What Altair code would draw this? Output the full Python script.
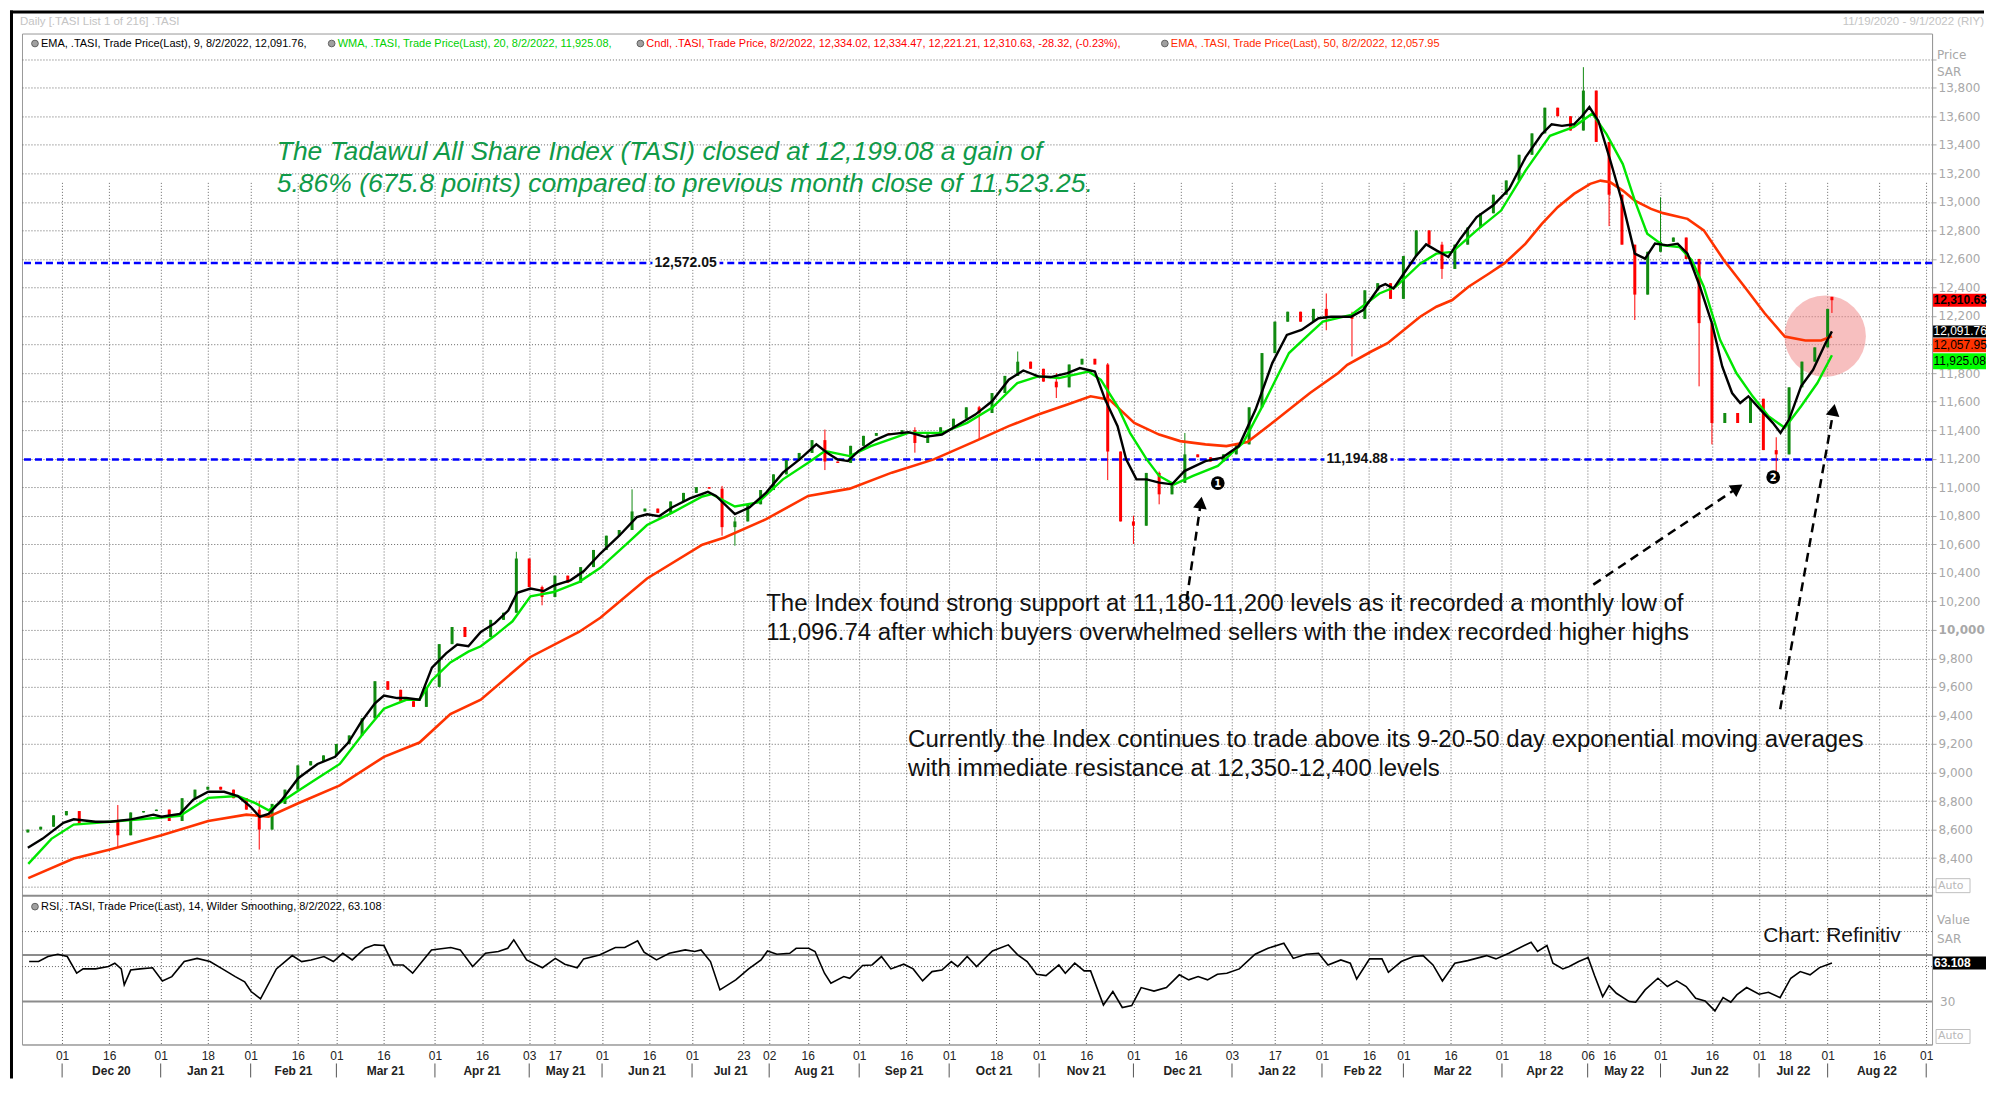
import math
import altair as alt
import pandas as pd

# ---------------- data ----------------
# candles: (session index, close); open = previous close
CANDLES = [(0,8600),(3,8620),(6,8700),(9,8730),(12,8640),(15,8660),(18,8660),(21,8560),(24,8720),(27,8730),
 (30,8740),(33,8660),(36,8820),(39,8880),(42,8900),(45,8880),(48,8820),(51,8740),(54,8600),(57,8780),
 (60,8880),(63,9050),(66,9080),(69,9120),(72,9200),(75,9260),(78,9380),(81,9640),(84,9580),(87,9500),
 (90,9460),(93,9600),(96,9900),(99,10020),(102,9950),(105,9950),(108,10070),(111,10120),(114,10500),(117,10300),
 (120,10230),(123,10380),(126,10330),(129,10440),(132,10560),(135,10660),(138,10700),(141,10830),(144,10850),(147,10820),
 (150,10900),(153,10960),(156,11000),(159,10990),(162,10720),(165,10760),(168,10880),(171,10980),(174,11090),(177,11190),
 (180,11240),(183,11330),(186,11180),(189,11170),(192,11290),(195,11360),(198,11380),(201,11370),(204,11400),(207,11310),
 (210,11370),(213,11420),(216,11480),(219,11560),(222,11520),(225,11660),(228,11780),(231,11880),(234,11830),(237,11740),
 (240,11700),(243,11860),(246,11900),(249,11860),(252,11250),(255,10760),(258,10730),(261,11100),(264,10950),(267,11030),
 (270,11230),(273,11210),(276,11180),(279,11230),(282,11300),(285,11560),(288,11940),(291,12160),(294,12230),(297,12160),
 (300,12250),(303,12200),(306,12200),(309,12180),(312,12380),(315,12430),(318,12320),(321,12620),(324,12800),(327,12700),
 (330,12530),(333,12700),(336,12820),(339,12920),(342,13050),(345,13150),(348,13330),(351,13480),(354,13660),(357,13600),
 (360,13500),(363,13780),(366,13420),(369,13050),(372,12700),(375,12350),(378,12650),(381,12720),(384,12750),(387,12600),
 (390,12150),(393,11450),(396,11520),(399,11450),(402,11620),(405,11260),(408,11230),(411,11700),(414,11880),(417,11980),
 (420,12250),(421,12310.63)]
FIRST_OPEN = 8580
# visible long wicks: (session, low, high)
WICKS = [(21,8472,8772),(54,8460,8800),(114,10180,10547),(120,10172,10310),(141,10780,10985),(162,10660,11009),
 (165,10590,10790),(186,11120,11404),(207,11242,11420),(222,11335,11570),(231,11780,11951),(240,11625,11800),
 (252,11050,11870),(258,10602,10800),(264,10880,11110),(270,11170,11380),(303,12100,12358),(309,11916,12230),
 (330,12460,12720),(363,13600,13944),(369,12830,13420),(375,12172,12700),(381,12700,13032),(390,11707,12600),
 (393,11300,12150),(408,11097,11350)]
LAST_OHLC = (12334.02, 12334.47, 12221.21, 12310.63)

EMA9 = [(0,8472),(3.4,8535),(8.3,8647),(10.7,8672),(15.8,8655),(19.2,8655),(24.1,8672),(29.3,8705),(31.2,8690),(35.5,8710),
 (38.6,8810),(42.1,8865),(45.8,8865),(49,8835),(52,8760),(54.1,8690),(56.2,8710),(59.3,8810),(63.1,8960),(67.6,9060),
 (71.7,9110),(74.8,9210),(77.9,9360),(81,9485),(83.1,9540),(86.2,9522),(88.3,9522),(91.4,9510),(94.3,9735),(97.6,9835),
 (100.2,9897),(102.8,9885),(105.7,9985),(109,10047),(112.1,10135),(114.2,10260),(117.3,10290),(120.4,10272),(122.7,10310),
 (126.6,10347),(129.7,10410),(133.6,10535),(138,10660),(142.1,10790),(144.5,10810),(147.3,10797),(150.4,10860),(154.5,10922),
 (158.7,10967),(160.6,10939),(165,10811),(168.4,10858),(172.3,10962),(176.2,11102),(180.1,11195),(184,11300),(186.5,11242),
 (188.9,11195),(191.4,11183),(193.8,11253),(197.7,11330),(200.6,11369),(205.5,11386),(209.4,11353),(213.3,11369),(217.2,11439),
 (221.1,11509),(225,11602),(228.9,11753),(232.3,11818),(235.8,11777),(238.7,11772),(242.6,11800),(245.5,11835),(249,11811),
 (251.4,11614),(254.3,11428),(256.3,11195),(258.7,11055),(261.1,11055),(264,11032),(267,11020),(269.9,11113),(274.8,11183),
 (278.7,11207),(282.6,11288),(286.5,11544),(290.4,11870),(293.8,12067),(297.2,12102),(301.2,12184),(304.1,12195),(308.8,12195),
 (311.6,12242),(315.4,12405),(316.8,12423),(318.7,12393),(321.1,12498),(323.9,12619),(326.3,12702),(328.7,12660),(331.5,12614),
 (334.3,12742),(338.1,12893),(341.9,12974),(345.7,13091),(349.5,13312),(353.3,13475),(355.6,13544),(358,13533),(360.8,13544),
 (362.7,13602),(364.4,13665),(366.5,13567),(369.3,13288),(372.2,12986),(375,12637),(377.4,12602),(379.7,12707),(382.6,12695),
 (385,12707),(387.3,12637),(390.2,12405),(393,12149),(395.4,11846),(397.7,11660),(399.6,11590),(401.5,11637),(404.3,11544),
 (407.2,11451),(409,11381),(411,11474),(413.8,11707),(416.6,11823),(419.5,12009),(421,12091.76)]

WMA20 = [(0.1,8360),(5.5,8535),(10.7,8635),(19.2,8655),(31.2,8685),(35.5,8697),(42.1,8822),(49,8835),(53.1,8785),(56.2,8735),
 (63.1,8872),(67.6,8960),(72.8,9060),(77.9,9260),(83.1,9447),(88.3,9510),(91.4,9510),(94.3,9647),(98.6,9772),(102.8,9847),
 (105.7,9885),(109,9960),(113.1,10060),(117.3,10235),(122.7,10265),(128.6,10335),(133.6,10435),(140,10610),(144.5,10735),
 (150.4,10822),(157.4,10935),(159.6,10951),(165,10865),(170.4,10893),(176.2,11055),(182.1,11172),(186,11253),(191.8,11218),
 (196.7,11288),(205.5,11381),(213.3,11381),(219.2,11451),(225,11556),(230.9,11730),(235.8,11777),(240.6,11765),(247.5,11811),
 (250.4,11753),(254.3,11567),(257.2,11381),(261.1,11195),(264,11079),(267.5,11020),(271.9,11079),(277.7,11149),(283.6,11311),
 (288.5,11591),(294.3,11940),(299.2,12079),(302.2,12160),(308.8,12207),(315.4,12358),(319.2,12405),(324.9,12567),(328.7,12637),
 (332.4,12649),(338.1,12800),(343.8,12939),(349.5,13219),(355.2,13463),(360.8,13526),(365.1,13619),(368.4,13475),(372.2,13265),
 (375,13009),(377.9,12777),(381.6,12695),(385.4,12684),(388.3,12591),(391.1,12405),(394.9,12033),(398.7,11800),(402.5,11637),
 (406.2,11498),(410,11416),(413.8,11567),(417.6,11730),(421,11925.08)]

EMA50 = [(0.1,8260),(10.7,8397),(19.2,8460),(31.2,8560),(42.1,8660),(51,8705),(56.2,8690),(63.1,8785),(72.8,8910),(83.1,9110),
 (91.4,9210),(98.6,9410),(105.7,9510),(117.3,9810),(128.6,9985),(133.6,10085),(144.5,10360),(157.4,10597),(162.6,10648),
 (172.3,10776),(182.1,10939),(191.8,10990),(201.6,11102),(211.4,11195),(221.1,11323),(228.9,11428),(235.8,11509),(242.6,11579),
 (248,11637),(252.4,11614),(258.2,11451),(264,11369),(268.9,11323),(274.8,11300),(279.7,11288),(284.6,11316),(291.4,11474),
 (299.2,11660),(305.8,11800),(307.9,11858),(313.5,11951),(317.3,12009),(321.1,12102),(324.9,12195),(328.7,12265),(332.4,12312),
 (336.2,12405),(341,12498),(344.7,12572),(349.5,12707),(353.3,12846),(357,12963),(360.8,13056),(364.6,13126),(367,13149),
 (369.3,13137),(372.2,13079),(375,13009),(378.8,12951),(381.6,12921),(387.3,12881),(391.1,12800),(395.8,12591),(400.6,12405),
 (405.3,12219),(410,12056),(414.8,12028),(418.5,12028),(421,12057.95)]

RSI14 = [(0.3,64.3),(2.5,64.3),(4.7,68.6),(7,70.6),(9.2,68.6),(11.4,54.3),(12.9,58),(15.8,58),(18.8,60),(20.3,62.9),(21.8,58),
 (22.5,44.3),(24,57),(26.2,58),(29.1,59),(31.4,47.7),(33.6,51.4),(36.5,64.3),(39.5,67),(42.5,64.3),(45.4,58),(48.4,51.4),
 (50.6,47),(52.1,38.6),(54.3,32.3),(58,58),(61.7,69.4),(63.9,64.3),(66.1,65.7),(69.1,68.6),(71.3,64.3),(73.5,71.4),(75.7,65.7),
 (78.7,75.7),(80.9,78.6),(83.1,78),(85.3,61.4),(87.6,61.4),(89.8,54.3),(92,64.3),(94.2,74.3),(98.7,76.3),(100.9,74.3),
 (103.8,60),(106.8,71.4),(109.8,72.9),(112,75.7),(113.4,82.9),(116.4,65.7),(120.1,59),(123.1,67),(125.3,62),(128.2,59),
 (129.7,66.6),(133.4,70),(137.1,76.3),(139.3,76.3),(142.3,82),(143.8,72.3),(146.7,65.7),(149.7,71.4),(153.4,74.3),(155.6,72.9),
 (157.1,74.3),(159.3,64.3),(161.5,40),(165.2,48.6),(168.2,58),(171.1,65.7),(172.6,73.4),(174.8,70.6),(177.8,71.4),(179.3,75.7),
 (182.2,75.7),(183.7,72.9),(185.9,54.3),(187.4,45.7),(190.4,51.4),(191.8,50),(194.8,60.9),(197,61.4),(199.2,68.6),(201.4,58),
 (204.4,62),(206.6,58),(208.8,47.7),(211,55.7),(213.3,57),(215.5,64.3),(217,60),(219.2,68.6),(221.4,60),(225.1,73.4),
 (228.8,78.6),(231,70),(233.2,64.3),(235.4,53.4),(237.6,52.3),(240.6,61.4),(242.1,54.3),(244.3,62.9),(246.5,56.3),(248,56.3),
 (251,27.1),(253.2,38.6),(255.4,24.9),(257.6,26.6),(259.8,42),(262.8,39),(265.7,42),(268.7,52.9),(270.9,48.6),(273.1,51.4),
 (275.3,48.6),(277.6,53.4),(279.8,54.3),(282.7,58),(286.4,70.6),(289.4,75.7),(293.1,80),(295.3,67),(298.3,70.6),(301.2,71.4),
 (303.4,61.4),(306.4,65.7),(308.6,62.9),(310.1,49.4),(313.1,66.6),(316,66.6),(317.5,55.1),(320.5,64.3),(323.4,68.6),(325.6,69.4),
 (327.9,61.4),(330.1,47.7),(333,62.9),(336,65.1),(340.4,69.4),(342.6,66.6),(345.6,71.4),(350.8,80.9),(352.3,72.9),(354.5,78),
 (355.9,62.9),(358.2,58),(359.7,60),(361.9,64.3),(364.1,67.7),(365.6,52.3),(367.5,34.3),(369,43.7),(370.7,37.1),(373.7,30),
 (375.2,29.4),(377.4,40),(380.4,50),(382.6,42.9),(384.8,47.7),(387,42.9),(389.2,32.9),(391.4,30.6),(393.7,22),(395.6,33.4),
 (397.4,29.4),(398.8,35.7),(401.1,42),(404,36.3),(406.2,38),(408.9,33.4),(411.4,50),(413.6,55.7),(415.9,52.9),(418.1,59.1),
 (421,63.108)]

LEVELS = [12572.05, 11194.88]
LEVEL_LABELS = ["12,572.05", "11,194.88"]
LEVEL_LABEL_S = [153.5, 310.2]

TICK_S = [8,19,31,42,52,63,72,83,95,106,117,123,134,145,155,167,173,182,194,205,215,226,236,247,258,269,281,291,
          302,313,321,332,344,354,364,369,381,393,404,410,420,432,443]
TICK_LABEL = ["01","16","01","18","01","16","01","16","01","16","03","17","01","16","01","23","02","16","01","16","01","18",
              "01","16","01","16","03","17","01","16","01","16","01","18","06","16","01","16","01","18","01","16","01"]
MONTH_EDGE = [8,31,52,72,95,117,134,155,173,194,215,236,258,281,302,321,344,364,381,404,420,443]
MONTH_MID = [19.5,41.5,62,83.5,106,125.5,144.5,164,183.5,204.5,225.5,247,269.5,291.5,311.5,332.5,354,372.5,392.5,412,431.5]
MONTH_NAME = ["Dec 20","Jan 21","Feb 21","Mar 21","Apr 21","May 21","Jun 21","Jul 21","Aug 21","Sep 21","Oct 21",
              "Nov 21","Dec 21","Jan 22","Feb 22","Mar 22","Apr 22","May 22","Jun 22","Jul 22","Aug 22"]

LAST_VALUES = [12310.63, 12091.76, 12057.95, 11925.08]
LAST_TEXT = ["12,310.63", "12,091.76", "12,057.95", "11,925.08"]
RSI_LAST = 63.108

# ---------------- layout / style ----------------
W, H_MAIN, H = 1912, 863, 1012
X_SCALE = alt.Scale(domain=[-0.2, 443.2], nice=False, zero=False)
P_SCALE = alt.Scale(domain=[8137, 14180], range=[H_MAIN, 0], nice=False, zero=False)
R_SCALE = alt.Scale(domain=[-6.8, 120.8], range=[H, H_MAIN], nice=False, zero=False)
BOX_X1, BOX_X2 = 1913, 1966

labels_js = "[" + ",".join("'%s'" % l for l in TICK_LABEL) + "]"
ticks_js = "[" + ",".join(str(t) for t in TICK_S) + "]"
XAXIS = alt.Axis(values=TICK_S, labelExpr=f"{labels_js}[indexof({ticks_js}, datum.value)]",
                 grid=True, gridColor="#666666", gridDash=[1, 2], gridWidth=1,
                 ticks=False, tickSize=0, domain=True, domainColor="#999999",
                 labelFont="Liberation Sans", labelFontSize=12, labelColor="#222222",
                 labelPadding=6, labelBaseline="top", labelAngle=0, labelOverlap=False,
                 labelFlush=False, title=None)
YAXIS = alt.Axis(orient="right", values=list(range(8200, 14001, 200)),
                 labelExpr="datum.value < 8300 || datum.value > 13900 || datum.value == 12000 ? '' : format(datum.value, ',')",
                 grid=True, gridColor="#666666", gridDash=[1, 2], gridWidth=1,
                 tickSize=4, tickColor="#aaaaaa", domainColor="#999999",
                 labelColor="#a8a8a8", labelFont="DejaVu Sans", labelFontSize=12, labelPadding=2,
                 labelFontWeight={"condition": {"test": "datum.value == 10000", "value": "bold"}, "value": "normal"},
                 labelOverlap=False, labelBound=False, title=None)

def X(field="s"):
    return alt.X(f"{field}:Q", scale=X_SCALE, axis=XAXIS)

def YP(field, axis=None):
    return alt.Y(f"{field}:Q", scale=P_SCALE, axis=axis)

def YR(field):
    return alt.Y(f"{field}:Q", scale=R_SCALE, axis=None)

DUMMY = alt.Data(values=[{"k": 0}])

def ptext(text, x, y, **kw):
    return alt.Chart(DUMMY).mark_text(text=text, **kw).encode(x=alt.value(x), y=alt.value(y))

def prule(x1, y1, x2, y2, **kw):
    return alt.Chart(DUMMY).mark_rule(**kw).encode(x=alt.value(x1), y=alt.value(y1),
                                                   x2=alt.value(x2), y2=alt.value(y2))

def prect(x1, y1, x2, y2, **kw):
    return alt.Chart(DUMMY).mark_rect(**kw).encode(x=alt.value(x1), y=alt.value(y1),
                                                   x2=alt.value(x2), y2=alt.value(y2))

# ---------------- tables ----------------
wick_map = {s: (lo, hi) for s, lo, hi in WICKS}
rows = []
prev = FIRST_OPEN
for s, c in CANDLES:
    o = prev
    if s == CANDLES[-1][0]:
        o, h, l, c = LAST_OHLC
    else:
        h, l = max(o, c), min(o, c)
    if s in wick_map:
        l = min(l, wick_map[s][0]); h = max(h, wick_map[s][1])
    rows.append({"s": s, "o": o, "c": c, "hi": h, "lo": l,
                 "col": "#118a11" if c >= o else "#ff0000"})
    prev = c
cdf = pd.DataFrame(rows)
ema9 = pd.DataFrame(EMA9, columns=["s", "v"])
wma20 = pd.DataFrame(WMA20, columns=["s", "v"])
ema50 = pd.DataFrame(EMA50, columns=["s", "v"])
rsi = pd.DataFrame(RSI14, columns=["s", "v"])
lev = pd.DataFrame({"v": LEVELS, "lab": LEVEL_LABELS, "s": LEVEL_LABEL_S})

layers = []

# panel separator
layers.append(prule(0, H_MAIN, W, H_MAIN, color="#8c8c8c", strokeWidth=2))

# support / resistance lines
layers.append(alt.Chart(lev).mark_rule(color="#0000ff", strokeDash=[7, 4], strokeWidth=2.5)
              .encode(y=YP("v")))

# highlight circle
layers.append(alt.Chart(DUMMY).mark_point(shape="circle", filled=True, size=6650, color="#f08080",
                                          opacity=0.5, strokeWidth=0)
              .encode(x=alt.value(1805), y=alt.value(303)))

# candles
layers.append(alt.Chart(cdf).mark_rule(strokeWidth=1)
              .encode(x=X(), y=YP("lo", YAXIS), y2="hi:Q", color=alt.Color("col:N", scale=None)))
layers.append(alt.Chart(cdf).mark_bar(size=3)
              .encode(x=X(), y=YP("o"), y2="c:Q", color=alt.Color("col:N", scale=None)))

# moving averages
layers.append(alt.Chart(ema50).mark_line(color="#ff3300", strokeWidth=2.6).encode(x=X(), y=YP("v")))
layers.append(alt.Chart(wma20).mark_line(color="#00e600", strokeWidth=2.4).encode(x=X(), y=YP("v")))
layers.append(alt.Chart(ema9).mark_line(color="#000000", strokeWidth=2.4).encode(x=X(), y=YP("v")))

# level labels (white halo)
layers.append(alt.Chart(lev).mark_text(font="Liberation Sans", fontSize=14, fontWeight="bold",
                                        stroke="white", strokeWidth=6, color="white")
              .encode(x=X(), y=YP("v"), text="lab:N"))
layers.append(alt.Chart(lev).mark_text(font="Liberation Sans", fontSize=14, fontWeight="bold", color="#111111")
              .encode(x=X(), y=YP("v"), text="lab:N"))

# annotations
GREEN = "#109a48"
layers.append(ptext("The Tadawul All Share Index (TASI) closed at 12,199.08 a gain of", 255, 119,
                    align="left", baseline="middle", font="Liberation Sans", fontSize=26.5,
                    fontStyle="italic", color=GREEN))
layers.append(ptext("5.86% (675.8 points) compared to previous month close of 11,523.25.", 255, 151,
                    align="left", baseline="middle", font="Liberation Sans", fontSize=26.5,
                    fontStyle="italic", color=GREEN))
layers.append(ptext("The Index found strong support at 11,180-11,200 levels as it recorded a monthly low of",
                    745, 571, align="left", baseline="middle", font="Liberation Sans", fontSize=24, color="#111111"))
layers.append(ptext("11,096.74 after which buyers overwhelmed sellers with the index recorded higher highs",
                    745, 600, align="left", baseline="middle", font="Liberation Sans", fontSize=24, color="#111111"))
layers.append(ptext("Currently the Index continues to trade above its 9-20-50 day exponential moving averages",
                    887, 707, align="left", baseline="middle", font="Liberation Sans", fontSize=24, color="#111111"))
layers.append(ptext("with immediate resistance at 12,350-12,400 levels",
                    887, 736, align="left", baseline="middle", font="Liberation Sans", fontSize=24, color="#111111"))
layers.append(ptext("Chart: Refinitiv", 1743, 903, align="left", baseline="middle",
                    font="Liberation Sans", fontSize=21, color="#111111"))

# arrows
ARROWS = [((1165.8, 567.0), (1181.0, 462.7)),
          ((1572.9, 551.7), (1723.0, 450.9)),
          ((1760.0, 676.4), (1814.7, 369.8))]
for (x0, y0), (x1, y1) in ARROWS:
    dx, dy = x1 - x0, y1 - y0
    L = math.hypot(dx, dy)
    ux, uy = dx / L, dy / L
    layers.append(prule(x0, y0, x1 - 11 * ux, y1 - 11 * uy, color="black", strokeWidth=2.5, strokeDash=[9, 6]))
    ang = math.degrees(math.atan2(dx, -dy)) % 360
    layers.append(alt.Chart(DUMMY).mark_point(shape="triangle-up", filled=True, size=190, color="black",
                                              opacity=1, angle=ang)
                  .encode(x=alt.value(x1 - 7 * ux), y=alt.value(y1 - 7 * uy)))

# numbered markers
for num, (mx, my) in [("1", (1197, 450)), ("2", (1753, 444))]:
    layers.append(alt.Chart(DUMMY).mark_point(shape="circle", filled=True, size=190, color="black", opacity=1)
                  .encode(x=alt.value(mx), y=alt.value(my)))
    layers.append(ptext(num, mx, my + 0.5, align="center", baseline="middle", font="DejaVu Sans",
                        fontSize=10, fontWeight="bold", color="white"))

# right-side last value boxes: value, text, background, text colour, shift, half height, weight
BOXES = [(LAST_VALUES[0], LAST_TEXT[0], "#ff0000", "#000000", 0, 6.5, "bold"),
         (LAST_VALUES[1], LAST_TEXT[1], "#000000", "#ffffff", 0, 6, "normal"),
         (LAST_VALUES[2], LAST_TEXT[2], "#ff3300", "#000000", 9, 7, "normal"),
         (LAST_VALUES[3], LAST_TEXT[3], "#00ff00", "#000000", 6, 8, "normal")]
for v, txt, bg, fg, dy, hh, fw in BOXES:
    d = pd.DataFrame({"v": [v]})
    layers.append(alt.Chart(d).mark_rect(color=bg, yOffset=-hh + dy, y2Offset=hh + dy)
                  .encode(x=alt.value(BOX_X1), x2=alt.value(BOX_X2), y=YP("v"), y2="v:Q"))
    layers.append(alt.Chart(d).mark_text(align="left", baseline="middle", dy=dy, color=fg, font="Liberation Sans",
                                         fontSize=12, fontWeight=fw)
                  .encode(x=alt.value(BOX_X1 + 0.5), y=YP("v"), text=alt.value(txt)))

layers.append(ptext("Price", 1917, 22, align="left", baseline="middle", font="DejaVu Sans", fontSize=12, color="#a8a8a8"))
layers.append(ptext("SAR", 1917, 39, align="left", baseline="middle", font="DejaVu Sans", fontSize=12, color="#a8a8a8"))
layers.append(prect(1916, 846, 1950, 860, fill="white", stroke="#c0c0c0", strokeWidth=1))
layers.append(ptext("Auto", 1918, 853, align="left", baseline="middle", font="DejaVu Sans", fontSize=11, color="#b8b8b8"))

# ---------------- RSI panel ----------------
layers.append(alt.Chart(pd.DataFrame({"v": [60, 90]})).mark_rule(color="#666666", strokeDash=[1, 2], strokeWidth=1)
              .encode(y=YR("v")))
layers.append(alt.Chart(pd.DataFrame({"v": [30, 70]})).mark_rule(color="#8c8c8c", strokeWidth=2)
              .encode(y=YR("v")))
layers.append(alt.Chart(rsi).mark_line(color="#000000", strokeWidth=1.6).encode(x=X(), y=YR("v")))
layers.append(ptext("Value", 1917, 887, align="left", baseline="middle", font="DejaVu Sans", fontSize=12, color="#a8a8a8"))
layers.append(ptext("SAR", 1917, 906, align="left", baseline="middle", font="DejaVu Sans", fontSize=12, color="#a8a8a8"))
rl = pd.DataFrame({"v": [RSI_LAST]})
layers.append(alt.Chart(rl).mark_rect(color="#000000", yOffset=-6.5, y2Offset=6.5)
              .encode(x=alt.value(BOX_X1), x2=alt.value(BOX_X2), y=YR("v"), y2="v:Q"))
layers.append(alt.Chart(rl).mark_text(align="left", baseline="middle", color="white", font="Liberation Sans",
                                      fontSize=12, fontWeight="bold")
              .encode(x=alt.value(BOX_X1 + 1), y=YR("v"), text=alt.value("63.108")))
layers.append(alt.Chart(pd.DataFrame({"v": [30]})).mark_text(align="left", baseline="middle", color="#a8a8a8",
                                                             font="DejaVu Sans", fontSize=12)
              .encode(x=alt.value(1920), y=YR("v"), text=alt.value("30")))
layers.append(prect(1916, 997, 1950, 1011, fill="white", stroke="#c0c0c0", strokeWidth=1))
layers.append(ptext("Auto", 1918, 1004, align="left", baseline="middle", font="DejaVu Sans", fontSize=11, color="#b8b8b8"))

# ---------------- legends / header ----------------
LEG = [(13, "EMA, .TASI, Trade Price(Last),  9, 8/2/2022, 12,091.76,", "#000000"),
       (310, "WMA, .TASI, Trade Price(Last),  20, 8/2/2022, 11,925.08,", "#00d000"),
       (619, "Cndl, .TASI, Trade Price, 8/2/2022, 12,334.02, 12,334.47, 12,221.21, 12,310.63, -28.32, (-0.23%),", "#ff0000"),
       (1144, "EMA, .TASI, Trade Price(Last),  50, 8/2/2022, 12,057.95", "#ff2a00")]
for ix, txt, col in LEG + [(13, "RSI, .TASI, Trade Price(Last),  14, Wilder Smoothing, 8/2/2022, 63.108", "#000000")]:
    yy = 874 if txt.startswith("RSI") else 10
    layers.append(alt.Chart(DUMMY).mark_point(shape="circle", filled=True, size=45, color="#a0a0a0",
                                              stroke="#606060", strokeWidth=1, opacity=1)
                  .encode(x=alt.value(ix), y=alt.value(yy)))
    layers.append(ptext(txt, ix + 6, yy, align="left", baseline="middle", font="Liberation Sans",
                        fontSize=11, color=col))

layers.append(ptext("Daily [.TASI List 1 of 216] .TASI", -2, -11.5, align="left", baseline="middle",
                    font="Liberation Sans", fontSize=11.5, color="#c4c4c4"))
layers.append(ptext("11/19/2020 - 9/1/2022 (RIY)", 1964, -11.5, align="right", baseline="middle",
                    font="Liberation Sans", fontSize=11.5, color="#c4c4c4"))
layers.append(prule(-12, -21.5, 1964, -21.5, color="#000000", strokeWidth=3))
layers.append(prule(-10.5, -23, -10.5, 1046, color="#000000", strokeWidth=3))

# ---------------- month axis ----------------
layers.append(alt.Chart(pd.DataFrame({"s": MONTH_EDGE})).mark_rule(color="#555555", strokeWidth=1)
              .encode(x=X(), y=alt.value(1031), y2=alt.value(1045)))
layers.append(alt.Chart(pd.DataFrame({"s": MONTH_MID, "n": MONTH_NAME}))
              .mark_text(font="Liberation Sans", fontSize=12, fontWeight="bold", color="#222222", baseline="middle")
              .encode(x=X(), y=alt.value(1039), text="n:N"))

chart = (alt.layer(*layers)
         .resolve_scale(y="independent")
         .properties(width=W, height=H, padding=0, background="white")
         .configure_view(stroke="#999999", strokeWidth=1))

chart.save("out.html", embed_options={"renderer": "svg", "actions": False})
